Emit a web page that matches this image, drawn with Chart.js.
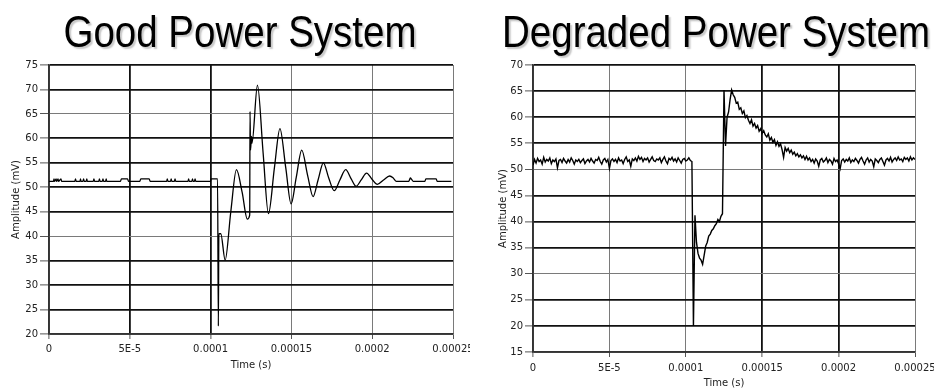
<!DOCTYPE html>
<html>
<head>
<meta charset="utf-8">
<script src="https://cdn.jsdelivr.net/npm/chart.js@4.4.1/dist/chart.umd.min.js"></script>
<style>
  body { margin: 0; background: #fff; }
  #wrap { position: relative; width: 934px; height: 389px; overflow: hidden; background: #fff; }
  canvas { position: absolute; top: 0; }
</style>
</head>
<body>
<div id="wrap">
  <canvas id="goodChart" width="470" height="389" style="left:0"></canvas>
  <canvas id="degradedChart" width="464" height="389" style="left:470px"></canvas>
</div>
<script>
// x values are in microseconds, labelled in seconds like the original
const xTickLabels = ['0', '5E-5', '0.0001', '0.00015', '0.0002', '0.00025'];
const xTickStepUs = 50;

// Good power system - ringing after the transient
const goodTimeUs = [
  0, 2.8, 3.1, 3.4, 4.4, 4.7, 5.6, 5.9, 7.4, 7.8, 9,
  16, 16.4, 16.8, 19.2, 19.5, 19.8, 21, 21.4, 21.8, 23, 23.4, 23.7,
  27.4, 27.8, 28.2, 30.8, 31.2, 31.6, 33, 33.4, 33.8, 35, 35.4, 35.7,
  44.2, 44.8, 48.6, 49.2,
  56.2, 56.8, 62, 62.6,
  72.8, 73.2, 73.6, 75.2, 75.6, 76, 77.6, 78, 78.4,
  86, 86.4, 86.8, 88.4, 88.8, 89.2, 90, 90.4, 90.8,
  100, 100.2, 104.3, 104.8, 105.1, 106.3, 109, 112.5, 116, 119.5, 122.7, 124.2,
  124.4, 124.7, 125.3, 125.6, 129, 132.5, 135.8, 139.5, 142.9, 146.5, 149.8,
  153, 156.4, 160, 163.4, 166.5, 169.8, 173, 176.5, 180, 183.6, 187, 190,
  193.2, 196.5, 200, 203.2, 207, 210.8, 213, 215,
  222.6, 223.6, 224.4, 225.4,
  232.6, 233.2, 239.6, 240.2, 249
];
const goodAmp = [
  51.2, 51.2, 51.7, 51.2, 51.7, 51.2, 51.7, 51.2, 51.7, 51.2, 51.2,
  51.2, 51.7, 51.2, 51.2, 51.7, 51.2, 51.2, 51.7, 51.2, 51.2, 51.7, 51.2,
  51.2, 51.7, 51.2, 51.2, 51.7, 51.2, 51.2, 51.7, 51.2, 51.2, 51.7, 51.2,
  51.2, 51.7, 51.7, 51.2,
  51.2, 51.7, 51.7, 51.2,
  51.2, 51.7, 51.2, 51.2, 51.7, 51.2, 51.2, 51.7, 51.2,
  51.2, 51.7, 51.2, 51.2, 51.7, 51.2, 51.2, 51.7, 51.2,
  51.2, 51.7, 51.7, 21.6, 40.5, 40.5, 35.1, 45, 53.6, 49, 43.5, 44.3,
  65.5, 57.6, 60.4, 59, 70.9, 57, 44.6, 54, 62, 54, 46.6,
  52, 57.6, 52.5, 48.1, 51.5, 55, 52, 49.3, 51.5, 53.6, 51.7, 50.2,
  51.5, 52.9, 51.6, 50.6, 51.5, 52.3, 51.9, 51.2,
  51.2, 51.9, 51.6, 51.2,
  51.2, 51.7, 51.7, 51.2, 51.2
];

// Degraded power system - one sample per microsecond, 0..250
const degradedSampleUs = 1;
const degradedAmp = [
  50.8, 51.9, 51.2, 52.1, 51.5, 51.8, 51.0, 52.3, 51.4, 51.9,
  51.6, 52.2, 51.1, 51.8, 51.5, 52.0, 50.3, 51.7, 51.9, 51.3,
  52.1, 51.6, 51.2, 51.9, 51.4, 52.2, 51.7, 51.0, 51.8, 51.5,
  51.9, 51.3, 51.7, 52.0, 51.1, 51.6, 51.9, 51.4, 52.1, 51.6,
  51.2, 51.9, 51.7, 52.3, 51.5, 51.0, 51.8, 52.1, 51.4, 51.9,
  50.2, 51.7, 52.0, 51.5, 51.9, 51.3, 52.2, 51.6, 51.8, 51.1,
  51.9, 52.4, 51.5, 51.8, 50.6, 52.0, 51.7, 52.2, 51.6, 52.5,
  51.9, 52.3, 51.5, 52.1, 51.8, 52.2, 51.4, 51.9, 52.4, 51.7,
  51.5, 52.0, 51.8, 52.2, 51.3, 51.9, 52.4, 51.6, 51.1, 52.1,
  51.8, 52.3, 51.6, 52.0, 51.4, 52.2, 51.7, 51.2, 51.9, 52.1,
  51.6, 51.8, 52.2, 51.7, 51.5, 20.0, 41.2, 36.0, 33.9, 33.0,
  32.6, 31.8, 33.5, 35.3, 36.0, 37.2, 37.6, 38.3, 38.6, 39.2,
  39.6, 40.4, 40.0, 41.0, 41.5, 65.2, 54.5, 60.0, 61.0, 63.4,
  65.2, 64.3, 63.8, 62.7, 62.9, 61.5, 61.8, 60.7, 61.2, 59.9,
  60.3, 59.4, 58.8, 59.5, 58.3, 58.8, 57.9, 58.4, 57.3, 57.8,
  56.9, 57.4, 56.6, 56.2, 56.8, 55.6, 56.1, 55.2, 55.7, 54.6,
  55.3, 54.4, 54.9, 53.8, 52.3, 54.2, 53.5, 54.0, 53.2, 53.7,
  52.9, 53.3, 52.6, 53.0, 52.4, 52.8, 52.2, 52.6, 51.9, 52.5,
  51.8, 52.2, 51.5, 51.9, 51.2, 52.0, 51.6, 50.6, 51.8, 52.1,
  51.4, 51.7, 52.2, 51.3, 51.9, 51.6, 51.0, 52.1, 51.5, 51.8,
  51.1, 50.1, 51.7, 52.0, 51.4, 51.9, 51.6, 52.2, 51.3, 51.8,
  51.5, 52.1, 51.7, 51.2, 51.9, 52.3, 51.6, 51.0, 51.8, 52.2,
  51.4, 51.9, 51.6, 50.5, 52.0, 51.7, 51.3, 51.9, 52.2, 51.5,
  50.8, 51.8, 52.1, 51.6, 52.3, 51.4, 51.9, 52.2, 51.7, 52.4,
  51.8, 52.0, 51.5, 52.3, 51.9, 52.2, 51.6, 52.4, 51.8, 52.2,
  51.9
];

const goodPoints = goodTimeUs.map((t, i) => ({ x: t, y: goodAmp[i] }));
const degradedPoints = degradedAmp.map((v, i) => ({ x: i * degradedSampleUs, y: v }));

const K = '#111', G = '#7a7a7a';
const tickFont = { family: '"DejaVu Sans", Verdana, sans-serif', size: 10 };

// big drop-shadowed heading above each plot
const panelTitle = {
  id: 'panelTitle',
  afterDraw(chart, args, opts) {
    const { ctx } = chart;
    ctx.save();
    ctx.font = '44px "Liberation Sans", Arial, sans-serif';
    ctx.textAlign = 'center';
    ctx.textBaseline = 'alphabetic';
    ctx.shadowColor = 'rgba(0,0,0,0.22)';
    ctx.shadowOffsetX = 2;
    ctx.shadowOffsetY = 2;
    ctx.shadowBlur = 1.5;
    ctx.fillStyle = '#000';
    ctx.translate(opts.x, opts.y);
    ctx.scale(0.875, 1);
    ctx.fillText(opts.text, 0, 0);
    ctx.restore();
  }
};

function makeConfig(p) {
  return {
    type: 'line',
    data: {
      datasets: [{
        data: p.points,
        borderColor: '#000',
        borderWidth: p.lineWidth,
        pointRadius: 0,
        cubicInterpolationMode: p.smooth ? 'monotone' : 'default',
        tension: 0
      }]
    },
    options: {
      responsive: false,
      animation: false,
      events: [],
      layout: { padding: { top: 65, right: p.padRight, left: 0, bottom: 0 } },
      plugins: {
        legend: { display: false },
        tooltip: { enabled: false },
        panelTitle: { text: p.title, x: p.titleX, y: 47 }
      },
      scales: {
        x: {
          type: 'linear',
          min: 0,
          max: 250,
          afterFit: (s) => {
            s.height = p.xHeight;
            s.paddingLeft = 0;
            s.paddingRight = 0;
          },
          ticks: {
            stepSize: xTickStepUs,
            autoSkip: false,
            maxRotation: 0,
            padding: p.xLabelPad,
            color: '#222',
            font: tickFont,
            callback: (v) => xTickLabels[Math.round(v / xTickStepUs)]
          },
          grid: {
            color: p.xGrid,
            lineWidth: p.xGrid.map(c => c === K ? 1.8 : 1),
            tickLength: 5,
            tickColor: '#555',
            tickWidth: 1
          },
          border: { color: '#333', width: 1.5 },
          title: {
            display: true,
            text: 'Time (s)',
            color: '#222',
            font: tickFont,
            padding: { top: 0, bottom: p.xTitlePad }
          }
        },
        y: {
          min: p.yMin,
          max: p.yMax,
          afterFit: (s) => {
            s.width = p.yWidth;
            s.paddingTop = 0;
            s.paddingBottom = 0;
          },
          ticks: {
            stepSize: 5,
            autoSkip: false,
            padding: 2,
            color: '#222',
            font: tickFont
          },
          grid: {
            color: p.yGrid,
            lineWidth: p.yGrid.map(c => c === K ? 1.8 : 1),
            tickLength: p.yTickLen,
            tickColor: '#555',
            tickWidth: 1
          },
          border: { color: '#333', width: 1.5 },
          title: {
            display: true,
            text: 'Amplitude (mV)',
            color: '#222',
            font: tickFont,
            padding: { top: p.yTitlePad, bottom: 0 }
          }
        }
      }
    },
    plugins: [panelTitle]
  };
}

new Chart(document.getElementById('goodChart'), makeConfig({
  points: goodPoints,
  lineWidth: 1.3,
  smooth: true,
  title: 'Good Power System',
  titleX: 240,
  padRight: 17,
  xHeight: 55,
  yWidth: 49,
  yMin: 20,
  yMax: 75,
  yTickLen: 9,
  yTitlePad: 10,
  xLabelPad: 4,
  xTitlePad: 18,
  xGrid: [K, K, K, G, G, G],
  yGrid: [K, K, K, K, G, K, K, K, K, G, K, K]
}));

new Chart(document.getElementById('degradedChart'), makeConfig({
  points: degradedPoints,
  lineWidth: 1.4,
  smooth: false,
  title: 'Degraded Power System',
  titleX: 246,
  padRight: 19,
  xHeight: 37,
  yWidth: 63,
  yMin: 15,
  yMax: 70,
  yTickLen: 8,
  yTitlePad: 27,
  xLabelPad: 5,
  xTitlePad: 0,
  xGrid: [K, G, G, K, K, G],
  yGrid: [K, K, K, G, K, K, K, G, K, K, K, K]
}));
</script>
</body>
</html>
